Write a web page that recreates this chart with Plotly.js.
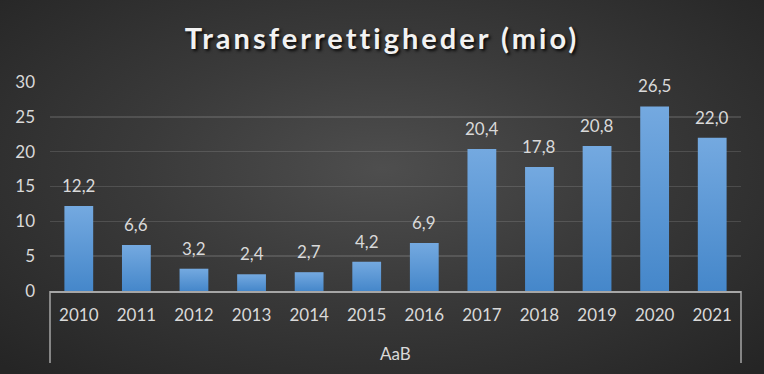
<!DOCTYPE html>
<html>
<head>
<meta charset="utf-8">
<script src="https://cdn.plot.ly/plotly-3.0.1.min.js"></script>
<style>
html,body{margin:0;padding:0;}
body{width:764px;height:374px;overflow:hidden;
 background: radial-gradient(ellipse 70% 75% at 50% 45%, #4e4e4e 0%, #3a3a3a 45%, #252525 100%);}
#chart{width:764px;height:374px;}
.gtitle{letter-spacing:3px;}
</style>
</head>
<body>
<div id="chart"></div>
<script>
const club = "AaB";
const years = ["2010","2011","2012","2013","2014","2015","2016","2017","2018","2019","2020","2021"];
const values = [12.2, 6.6, 3.2, 2.4, 2.7, 4.2, 6.9, 20.4, 17.8, 20.8, 26.5, 22.0];
const yTicks = [0, 5, 10, 15, 20, 25, 30];
const titleText = "Transferrettigheder (mio)";

const fontFam = "Lato, 'Open Sans', sans-serif";
const labelColor = "#d9d9d9";
const lineColor = "#a6a6a6";

const trace = {
  type: "bar",
  x: years,
  y: values,
  marker: {color: "#5b9bd5"},
  hoverinfo: "none"
};

const fmt = v => v.toFixed(1).replace(".", ",");
// category axis: annotation x is the category's serial index
const annotations = years.map((yr, i) => ({
  x: i, y: values[i], xref: "x", yref: "y",
  text: fmt(values[i]), showarrow: false,
  xanchor: "center", yanchor: "bottom", yshift: 8,
  font: {family: fontFam, size: 17, color: labelColor}
}));
annotations.push({
  x: 0.5, xref: "paper", y: -0.30, yref: "paper",
  text: club, showarrow: false, xanchor: "center", yanchor: "middle",
  font: {family: fontFam, size: 17, color: labelColor}
});

const dividerShapes = [0, 1].map(px => ({
  type: "line", xref: "paper", yref: "paper",
  x0: px, x1: px, y0: 0, y1: -0.345,
  line: {color: lineColor, width: 1.5}
}));

const layout = {
  width: 764, height: 374,
  margin: {l: 50, r: 23, t: 82, b: 83},
  paper_bgcolor: "rgba(0,0,0,0)",
  plot_bgcolor: "rgba(0,0,0,0)",
  bargap: 0.5,
  showlegend: false,
  title: {text: titleText, x: 0.5, xanchor: "center", y: 0.895, yanchor: "middle",
    font: {family: fontFam, size: 29, weight: 700, color: "#f2f2f2", shadow: "2px 2px 3px rgba(0,0,0,0.85)"}},
  xaxis: {type: "category", showline: true, linecolor: lineColor, linewidth: 1.5,
    ticks: "", ticklabelstandoff: 8, range: [-0.5, years.length - 0.5],
    tickfont: {family: fontFam, size: 17, color: labelColor}, showgrid: false},
  yaxis: {range: [0, 30], tickvals: yTicks, showline: false, zeroline: false,
    gridcolor: "rgba(255,255,255,0.13)", gridwidth: 1.5, ticks: "", ticklabelstandoff: 14,
    tickfont: {family: fontFam, size: 17, color: labelColor}},
  annotations: annotations,
  shapes: dividerShapes
};
Plotly.newPlot("chart", [trace], layout, {staticPlot: true}).then(function(gd){
  const svg = gd.querySelector("svg.main-svg");
  const ns = "http://www.w3.org/2000/svg";
  let defs = svg.querySelector("defs");
  const lg = document.createElementNS(ns, "linearGradient");
  lg.setAttribute("id", "barGrad");
  lg.setAttribute("x1", "0"); lg.setAttribute("y1", "0");
  lg.setAttribute("x2", "0"); lg.setAttribute("y2", "1");
  [["0%", "#74a9e0"], ["100%", "#4587ca"]].forEach(function(s){
    const st = document.createElementNS(ns, "stop");
    st.setAttribute("offset", s[0]); st.setAttribute("stop-color", s[1]);
    lg.appendChild(st);
  });
  defs.appendChild(lg);
  gd.querySelectorAll(".bars .point path").forEach(function(p){
    p.style.fill = "url(#barGrad)";
  });
});
</script>
</body>
</html>
